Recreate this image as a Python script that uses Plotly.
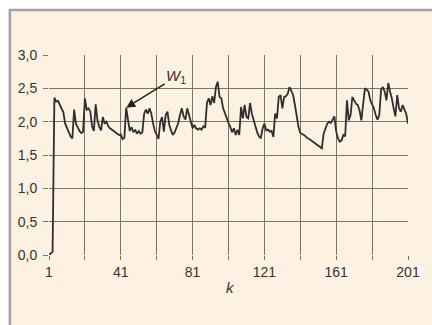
import plotly.graph_objects as go

# Index of the step and the measured W values
k = list(range(1, 202))
w = [
    0.00, 0.02, 0.05, 2.36, 2.30, 2.31, 2.26, 2.20, 2.14, 1.97,
    1.90, 1.86, 1.78, 1.75, 2.18, 1.97, 1.90, 1.86, 1.83, 1.85,
    2.35, 2.18, 2.20, 2.15, 1.93, 1.86, 2.26, 2.02, 1.92, 1.87,
    2.07, 1.97, 2.00, 1.93, 1.90, 1.88, 1.85, 1.84, 1.82, 1.80,
    1.81, 1.74, 1.76, 2.21, 2.03, 1.86, 1.92, 1.84, 1.88, 1.82,
    1.86, 1.82, 1.84, 2.12, 2.18, 2.12, 2.20, 2.12, 1.97, 1.86,
    1.80, 1.74, 2.00, 2.07, 1.85, 2.10, 2.15, 1.95, 1.87, 1.80,
    1.84, 1.90, 1.98, 2.10, 2.20, 2.08, 2.03, 2.20, 2.10, 1.97,
    1.90, 1.95, 1.90, 1.88, 1.90, 1.88, 1.93, 1.91, 2.28, 2.35,
    2.25, 2.38, 2.28, 2.52, 2.60, 2.37, 2.35, 2.20, 2.12, 2.04,
    1.98, 1.92, 1.84, 1.90, 1.80, 1.88, 1.80, 2.22, 2.05, 2.25,
    2.07, 2.05, 2.28, 2.12, 2.00, 1.93, 1.84, 1.78, 1.75, 1.90,
    1.97, 1.87, 1.88, 1.85, 1.86, 1.77, 2.12, 2.05, 2.37, 2.40,
    2.20, 2.37, 2.38, 2.42, 2.52, 2.45, 2.40, 2.25, 2.05, 1.92,
    1.83, 1.82, 1.80, 1.78, 1.75, 1.74, 1.72, 1.70, 1.68, 1.66,
    1.64, 1.62, 1.60, 1.82, 1.90, 1.97, 2.00, 1.98, 2.03, 2.08,
    1.85, 1.75, 1.70, 1.72, 1.80, 1.78, 2.32, 2.02, 2.10, 2.37,
    2.32, 2.27, 2.25, 2.17, 2.02, 2.28, 2.50, 2.48, 2.45, 2.32,
    2.27, 2.20, 2.10, 2.03, 2.10, 2.48, 2.52, 2.45, 2.32, 2.58,
    2.45, 2.35, 2.20, 2.08, 2.40, 2.20, 2.15, 2.25, 2.18, 2.12,
    1.97,
]

x_labels = [1, 41, 81, 121, 161, 201]
x_minor = [21, 61, 101, 141, 181]
y_ticks = [0.0, 0.5, 1.0, 1.5, 2.0, 2.5, 3.0]
y_labels = ["0,0", "0,5", "1,0", "1,5", "2,0", "2,5", "3,0"]

cream = "#fdf1e2"
grid = "#7a7462"
font = "Liberation Sans, Arial, sans-serif"

fig = go.Figure()
fig.add_trace(go.Scatter(
    x=k, y=w, mode="lines",
    line=dict(color="#2e2e2e", width=1.8),
    hoverinfo="skip", showlegend=False,
))

fig.update_layout(
    width=432, height=325,
    margin=dict(l=49, r=13, t=55, b=70),
    paper_bgcolor=cream, plot_bgcolor=cream,
    font=dict(family=font, size=14, color="#333333"),
    xaxis=dict(
        range=[1, 201], tickvals=x_labels, ticktext=[str(v) for v in x_labels],
        showgrid=True, gridcolor=grid, gridwidth=1.4,
        ticks="outside", ticklen=4, tickcolor=grid, tickwidth=1.4,
        minor=dict(tickvals=x_minor, showgrid=True, gridcolor=grid, gridwidth=1.4,
                   ticks="outside", ticklen=4, tickcolor=grid, tickwidth=1.4),
        showline=False, zeroline=False, fixedrange=True,
        ticklabelstandoff=0,
    ),
    yaxis=dict(
        range=[0, 3], tickvals=y_ticks, ticktext=y_labels,
        showgrid=True, gridcolor=grid, gridwidth=1.4,
        ticks="outside", ticklen=5, tickcolor=grid, tickwidth=1.4,
        showline=False, zeroline=False, fixedrange=True,
        ticklabelstandoff=3,
    ),
    shapes=[
        # white strip above the panel and its grey frame edges
        dict(type="rect", xref="paper", yref="paper", x0=-0.2, x1=1.1,
             y0=1.23, y1=1.35, fillcolor="white", line=dict(width=0), layer="below"),
        dict(type="rect", xref="paper", yref="paper", x0=-0.2, x1=-0.111,
             y0=-0.4, y1=1.35, fillcolor="white", line=dict(width=0), layer="below"),
        dict(type="line", xref="paper", yref="paper", x0=-0.11, x1=1.1,
             y0=1.225, y1=1.225, line=dict(color="#a3a3a3", width=2.5)),
        dict(type="line", xref="paper", yref="paper", x0=-0.109, x1=-0.109,
             y0=-0.4, y1=1.23, line=dict(color="#a3a3a3", width=2.5)),
    ],
    annotations=[
        dict(x=0.505, y=-0.16, xref="paper", yref="paper", yanchor="middle",
             text="<i>k</i>", showarrow=False, font=dict(size=15, color="#333333")),
        dict(x=44, y=2.21, xref="x", yref="y", text="<i>W</i><sub>1</sub>",
             showarrow=True, arrowhead=2, arrowsize=1.2, arrowwidth=1.5,
             arrowcolor="#222222", ax=50, ay=-31,
             font=dict(size=15, color="#333333")),
    ],
)

fig.write_html("out.html")
